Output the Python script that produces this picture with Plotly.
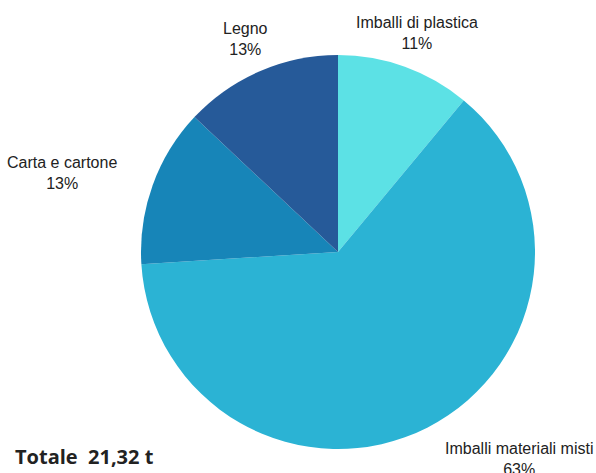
import math
import plotly.graph_objects as go

# Composizione dei rifiuti di imballaggio (tonnellate)
categories = ["Imballi di plastica", "Imballi materiali misti", "Carta e cartone", "Legno"]
values = [2.35, 13.43, 2.77, 2.77]
colors = ["#5CE1E5", "#2BB3D4", "#1785B8", "#265A99"]
total_label = "Totale  21,32 t"

W, H = 596, 473
CX, CY, R = 338, 252, 197
ML, MR, MT, MB = CX - R, W - CX - R, CY - R, H - CY - R
PW, PH = W - ML - MR, H - MT - MB
LABEL_DIST = 1.18


def to_paper(px, py):
    """Convert page pixel coordinates into paper (plot-area) fractions."""
    return (px - ML) / PW, 1 - (py - MT) / PH


fig = go.Figure(go.Pie(
    labels=categories,
    values=values,
    marker=dict(colors=colors, line=dict(width=0)),
    sort=False,
    direction="clockwise",
    rotation=0,
    textinfo="none",
    hoverinfo="label+percent",
    showlegend=False,
))

# Outside labels placed along each slice's mid-angle
tot = sum(values)
cum = 0.0
annotations = []
for name, v in zip(categories, values):
    mid = (cum + v / 2) / tot * 2 * math.pi
    cum += v
    s, c = math.sin(mid), math.cos(mid)
    px = CX + LABEL_DIST * R * s
    py = CY - LABEL_DIST * R * c
    if abs(s) < 0.42:
        xanchor = "center"
    elif s > 0:
        xanchor = "left"
    else:
        xanchor = "right"
    pct = round(v / tot * 100)
    x, y = to_paper(px, py)
    annotations.append(dict(
        x=x, y=y, xref="paper", yref="paper",
        xanchor=xanchor, yanchor="middle",
        text=f"{name}<br>{pct}%", showarrow=False, align="center",
        font=dict(family="Liberation Sans, Arial, sans-serif", size=16, color="#222222"),
    ))

tx, ty = to_paper(13, 456)
annotations.append(dict(
    x=tx, y=ty, xref="paper", yref="paper",
    xanchor="left", yanchor="middle", showarrow=False,
    text=f"<b>{total_label}</b>",
    font=dict(family="Open Sans, sans-serif", size=20, color="#222222"),
))

fig.update_layout(
    width=W, height=H,
    margin=dict(l=ML, r=MR, t=MT, b=MB),
    paper_bgcolor="white", plot_bgcolor="white",
    annotations=annotations,
)

fig.write_html("out.html")
